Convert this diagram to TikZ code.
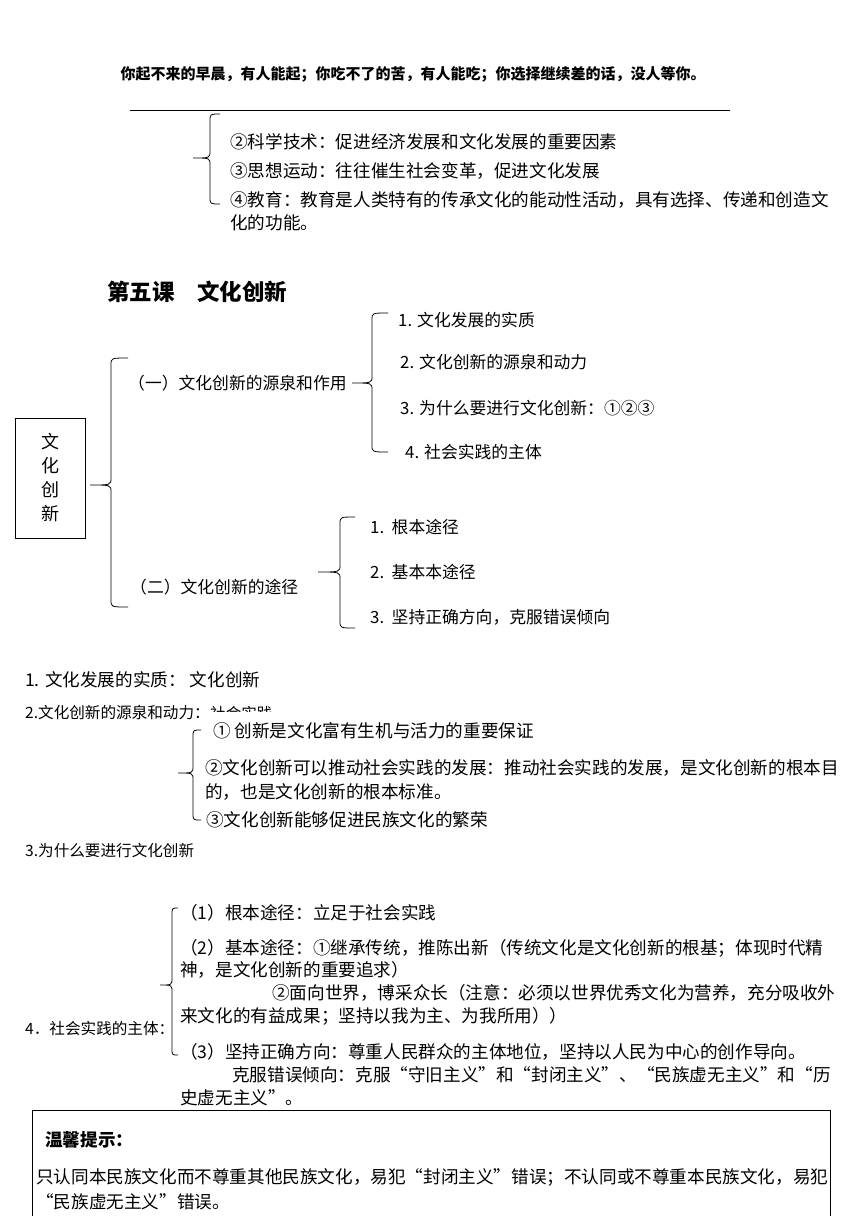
\documentclass[tikz,border=0pt]{standalone}
\usepackage{fontspec}
\setmainfont{Noto Sans CJK SC}
\newcommand\curlyb[6]{\draw[bracestyle] (#6,#2) .. controls (#1,#2) .. (#1,{#2+7}) -- (#1,{#3-7}) .. controls (#1,#3) .. (#5,#3) .. controls (#1,#3) .. (#1,{#3+7}) -- (#1,{#4-7}) .. controls (#1,#4) .. (#6,#4);}
\begin{document}
\begin{tikzpicture}[x=1pt,y=-1pt,
  body/.style={anchor=west, inner sep=0pt, font=\fontsize{17.6}{20}\selectfont},
  mm/.style={anchor=west, inner sep=0pt, font=\fontsize{16.8}{20}\selectfont},
  lab/.style={anchor=west, inner sep=0pt, font=\fontsize{15.6}{18}\selectfont},
  bracestyle/.style={draw, line width=0.8pt},
  rule/.style={draw, line width=0.8pt}]
\useasboundingbox (0,0) rectangle (860,1216);
\fill[white] (0,0) rectangle (860,1216);

% header
\node[inner sep=0pt, font=\bfseries\fontsize{15}{18}\selectfont] (hdr) at (413,74) {你起不来的早晨，有人能起；你吃不了的苦，有人能吃；你选择继续差的话，没人等你。};
\draw[rule] (130,110) -- (730,110);

% top brace block
\curlyb{210}{114}{158}{204}{193}{220}
\node[body] (t2) at (230,142) {②科学技术：促进经济发展和文化发展的重要因素};
\node[body] (t3) at (230,171) {③思想运动：往往催生社会变革，促进文化发展};
\node[body] (t4) at (230,200) {④教育：教育是人类特有的传承文化的能动性活动，具有选择、传递和创造文};
\node[body] (t4b) at (230,223) {化的功能。};

% title
\node[anchor=west, inner sep=0pt, font=\bfseries\fontsize{22.5}{26}\selectfont] (title) at (107,292) {第五课\hspace{1em}文化创新};

% mind map
\node[draw, line width=0.8pt, minimum width=70pt, minimum height=120pt, inner sep=0pt] (root) at (50,478) {};
\node[inner sep=0pt, font=\fontsize{18}{24}\selectfont, align=center] (rootlbl) at (root.center) {文\\化\\创\\新};
\curlyb{111}{358}{485}{607}{90}{128}

\node[mm] (s1) at (128,383) {（一）文化创新的源泉和作用};
\curlyb{372}{313}{383}{452}{352}{388}
\node[mm] (a1) at (398,320) {1. 文化发展的实质};
\node[mm] (a2) at (400,362) {2. 文化创新的源泉和动力};
\node[mm] (a3) at (400,408) {3. 为什么要进行文化创新：①②③};
\node[mm] (a4) at (405,452) {4. 社会实践的主体};

\node[mm] (s2) at (130,587) {（二）文化创新的途径};
\curlyb{340}{517}{572}{628}{318}{355}
\node[mm] (b1) at (370,527) {1.\ \ 根本途径};
\node[mm] (b2) at (370,572) {2.\ \ 基本本途径};
\node[mm] (b3) at (370,617) {3.\ \ 坚持正确方向，克服错误倾向};

% lower notes
\node[body] (n1) at (25,680) {1. 文化发展的实质：\ 文化创新};
\node[lab] (n2) at (25,713) {2.文化创新的源泉和动力：};
\begin{scope}
\clip (n2.east) ++(0,-12) rectangle ++(80,10);
\node[lab, anchor=west] (n2x) at (n2.east) {社会实践};
\end{scope}
\curlyb{193}{730}{773}{820}{178}{201}
\node[body] (c1) at (213,731) {①\ 创新是文化富有生机与活力的重要保证};
\node[body] (c2) at (205,768) {②文化创新可以推动社会实践的发展：推动社会实践的发展，是文化创新的根本目};
\node[body] (c2b) at (205,792) {的，也是文化创新的根本标准。};
\node[body] (c3) at (206,820) {③文化创新能够促进民族文化的繁荣};
\node[lab] (n3) at (25,851) {3.为什么要进行文化创新};

\curlyb{172}{908}{985}{1055}{160}{178}
\node[body] (d1) at (180,913) {（1）根本途径：立足于社会实践};
\node[body] (d2) at (180,948) {（2）基本途径：①继承传统，推陈出新（传统文化是文化创新的根基；体现时代精};
\node[body] (d2b) at (180,970) {神，是文化创新的重要追求）};
\node[body] (d2c) at (272,993) {②面向世界，博采众长（注意：必须以世界优秀文化为营养，充分吸收外};
\node[body] (d2d) at (180,1016) {来文化的有益成果；坚持以我为主、为我所用））};
\node[lab] (n4) at (25,1028) {4．社会实践的主体：};
\node[body] (d3) at (180,1052) {（3）坚持正确方向：尊重人民群众的主体地位，坚持以人民为中心的创作导向。};
\node[body] (d3b) at (232,1075) {克服错误倾向：克服“守旧主义”和“封闭主义”、“民族虚无主义”和“历};
\node[body] (d3c) at (180,1098) {史虚无主义”。};

% tip box
\draw[line width=0.8pt] (32,1216) -- (32,1110) -- (830,1110) -- (830,1216);
\node[anchor=west, inner sep=0pt, font=\bfseries\fontsize{17.6}{20}\selectfont] (tiph) at (45,1140) {温馨提示：};
\node[body] (tip1) at (36,1177) {只认同本民族文化而不尊重其他民族文化，易犯“封闭主义”错误；不认同或不尊重本民族文化，易犯};
\node[body] (tip2) at (36,1202) {“民族虚无主义”错误。};
\end{tikzpicture}
\end{document}
